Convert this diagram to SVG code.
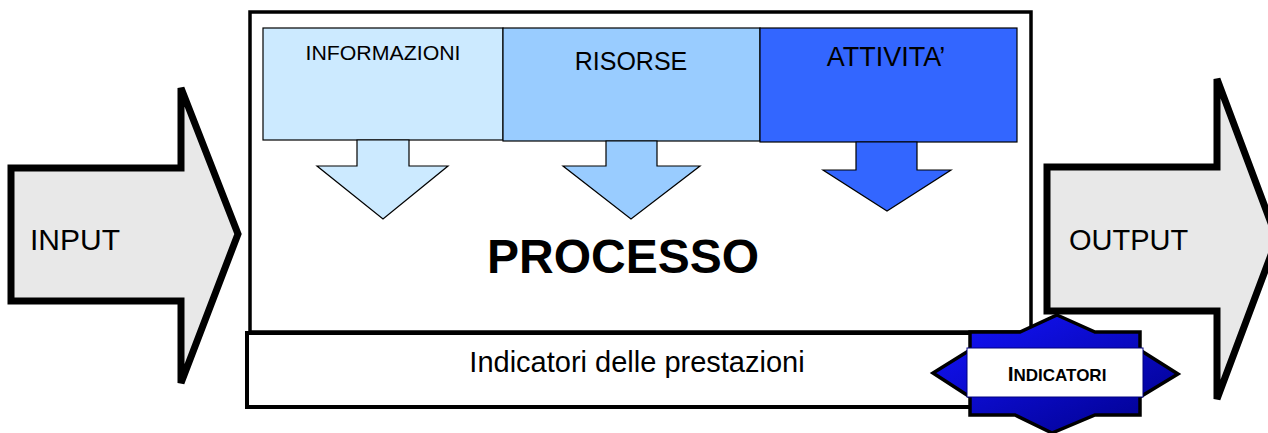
<svg xmlns="http://www.w3.org/2000/svg" width="1268" height="433" viewBox="0 0 1268 433">
<style>
.big{fill:#e8e8e8;stroke:#000;stroke-width:7;stroke-linejoin:miter}
.thin{stroke:#000;stroke-width:1.2}
.t{font-family:"Liberation Sans",Arial,sans-serif;fill:#000}
</style>
<defs>
<linearGradient id="bg" x1="0" y1="0" x2="1" y2="1">
<stop offset="0" stop-color="#1414ff"/>
<stop offset="1" stop-color="#000088"/>
</linearGradient>
</defs>
<rect width="1268" height="433" fill="#fff"/>
<g id="input">
<polygon class="big" points="11,168 181,168 181,88 238,234 181,383 181,301 11,301"/>
<text class="t" x="30" y="250" font-size="30">INPUT</text>
</g>
<g id="output">
<polygon class="big" points="1047,167 1217,167 1217,79 1277,239 1217,399 1217,311 1047,311"/>
<text class="t" x="1069" y="250" font-size="29">OUTPUT</text>
</g>
<g id="processo">
<rect x="250" y="12" width="781" height="320" fill="#fff" stroke="#000" stroke-width="3.5"/>
<text class="t" x="623" y="273" font-size="48" font-weight="bold" text-anchor="middle">PROCESSO</text>
</g>
<g id="informazioni">
<rect class="thin" x="263" y="28" width="240" height="112" fill="#cceaff"/>
<polygon class="thin" points="357,140 409,140 409,166 448,166 383,219 317,166 357,166" fill="#cceaff"/>
<text class="t" x="383" y="60" font-size="21" text-anchor="middle" textLength="155" lengthAdjust="spacingAndGlyphs">INFORMAZIONI</text>
</g>
<g id="risorse">
<rect class="thin" x="503" y="28" width="257" height="113" fill="#99ccff"/>
<polygon class="thin" points="606,141 657,141 657,166 700,166 631,219 563,166 606,166" fill="#99ccff"/>
<text class="t" x="631" y="70" font-size="25" text-anchor="middle">RISORSE</text>
</g>
<g id="attivita">
<rect class="thin" x="760" y="28" width="257" height="114" fill="#3366ff"/>
<polygon class="thin" points="856,142 917,142 917,170 951,170 887,211 823,170 856,170" fill="#3366ff"/>
<text class="t" x="886" y="66" font-size="27" text-anchor="middle">ATTIVITA’</text>
</g>
<g id="indicatori-prestazioni">
<rect x="247" y="333" width="760" height="74" fill="#fff" stroke="#000" stroke-width="4"/>
<text class="t" x="637" y="372" font-size="29" text-anchor="middle">Indicatori delle prestazioni</text>
</g>
<g id="indicatori">
<polygon points="1057,315 1095,332 1140,332 1140,350 1178,374 1140,397 1140,415 1095,415 1052,433 1015,415 970,415 970,397 933,373 970,350 970,332 1020,332" fill="url(#bg)" stroke="#000" stroke-width="3.5" stroke-linejoin="miter"/>
<rect x="967" y="348" width="176" height="49" fill="#fff" stroke="#000080" stroke-width="1"/>
<text class="t" x="1057" y="381" font-weight="bold" text-anchor="middle"><tspan font-size="21">I</tspan><tspan font-size="17">NDICATORI</tspan></text>
</g>
</svg>
